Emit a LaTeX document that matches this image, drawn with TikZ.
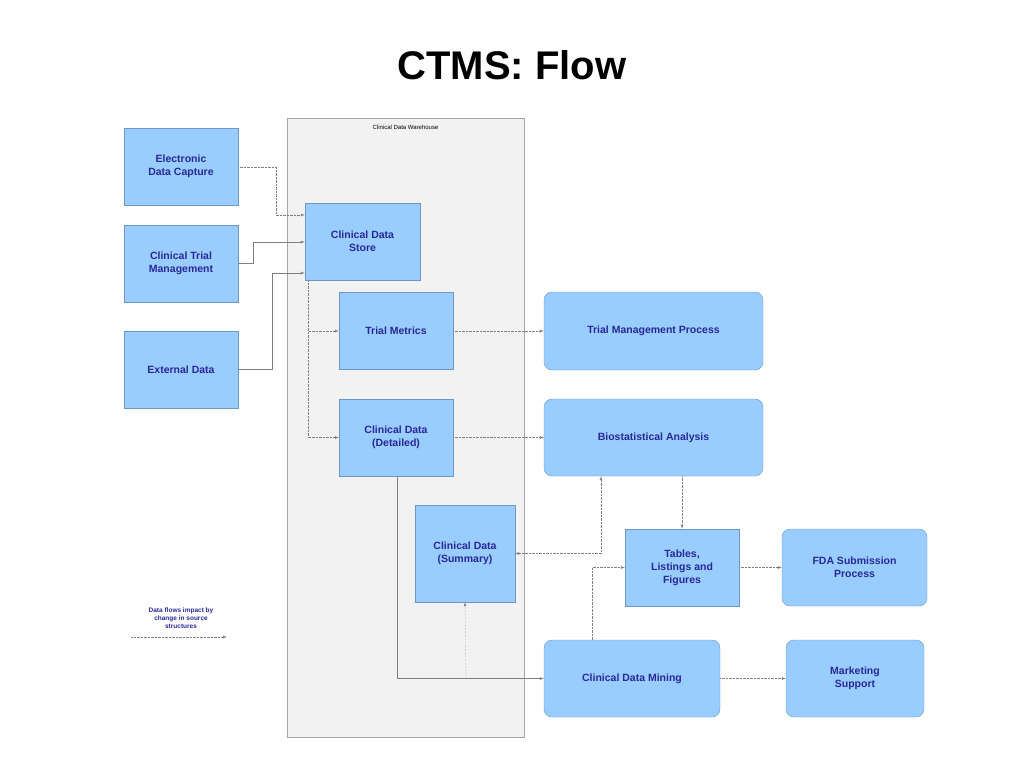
\documentclass[tikz,border=0pt]{standalone}
\usepackage{fontspec}
\setmainfont{Liberation Sans}
\usetikzlibrary{arrows,shapes,positioning}
\definecolor{boxfill}{RGB}{153,204,255}
\definecolor{boxline}{RGB}{110,150,200}
\definecolor{boxtext}{RGB}{40,40,150}

\begin{document}
\begin{tikzpicture}[x=1pt,y=-1pt]
\tikzset{BoxStyle/.style = {shape        = rectangle,
                            draw         = boxline,
                            fill         = boxfill,
                            text         = boxtext,
                            align        = center,
                            font         = \bfseries\fontsize{10.5}{13}\selectfont,
                            inner sep    = 2pt,
                            minimum width  = 114pt,
                            minimum height = 77pt},
         ProcStyle/.style = {BoxStyle, rounded corners=8pt},
         FlowStyle/.style = {draw=gray, densely dotted, -latex},
         FeedStyle/.style = {draw=gray, -latex}}
     \useasboundingbox (0,0) rectangle (1024,768);
     \node[font=\bfseries\fontsize{40}{44}\selectfont] (title) at (512,65) {CTMS: Flow};
     % warehouse
     \draw[gray!70, fill=gray!10] (287,118) rectangle (524,737);
     \node[font=\fontsize{6}{7}\selectfont] (CDW) at (405.5,127) {Clinical Data Warehouse};
     % sources
     \node[BoxStyle] (EDC) at (181,166.5) {Electronic\\Data Capture};
     \node[BoxStyle] (CTM) at (181,263.5) {Clinical Trial\\Management};
     \node[BoxStyle] (EXT) at (181,369.5) {External Data};
     % warehouse content
     \node[BoxStyle,minimum width=115pt] (CDS) at (362.5,241.5) {Clinical Data\\Store};
     \node[BoxStyle] (TM) at (396,331) {Trial Metrics};
     \node[BoxStyle] (CDD) at (396,437.5) {Clinical Data\\(Detailed)};
     \node[BoxStyle,minimum width=100pt,minimum height=97pt] (CDSum) at (465,553.5) {Clinical Data\\(Summary)};
     % processes
     \node[ProcStyle,minimum width=219pt,minimum height=78pt] (TMP) at (653.5,331) {Trial Management Process};
     \node[ProcStyle,minimum width=219pt] (BA) at (653.5,437.5) {Biostatistical Analysis};
     \node[BoxStyle] (TLF) at (682,567.5) {Tables,\\Listings and\\Figures};
     \node[ProcStyle,minimum width=145pt] (FDA) at (854.5,567.5) {FDA Submission\\Process};
     \node[ProcStyle,minimum width=176pt] (CDM) at (632,678.5) {Clinical Data Mining};
     \node[ProcStyle,minimum width=138pt] (MS) at (855,678.5) {Marketing\\Support};
     % legend
     \node[text=boxtext,align=center,font=\bfseries\fontsize{6.5}{8}\selectfont] (LEG) at (181,618) {Data flows impact by\\change in source\\structures};
     \coordinate (L1) at (131,637);
     \coordinate (L2) at (227,637);
     \draw[FlowStyle] (L1) -- (L2);
     % connectors
     \draw[FlowStyle] (EDC.east |- 0,167) -| (276,215) -- (CDS.west |- 0,215);
     \draw[FeedStyle] (CTM.east) -| (253,242) -- (CDS.west |- 0,242);
     \draw[FeedStyle] (EXT.east) -| (272,273) -- (CDS.west |- 0,273);
     \draw[FlowStyle] (308,280) |- (TM.west);
     \draw[FlowStyle] (308,280) |- (CDD.west);
     \draw[FlowStyle] (TM) -- (TMP);
     \draw[FlowStyle] (CDD) -- (BA);
     \draw[FeedStyle] (397,476) |- (CDM.west);
     \draw[FlowStyle] (466,679) -- (CDSum.south);
     \draw[FlowStyle,latex-latex] (BA.south -| 601,0) |- (CDSum.east);
     \draw[FlowStyle] (BA.south -| 682,0) -- (TLF.north);
     \draw[FlowStyle] (CDM.north -| 592,0) |- (TLF.west);
     \draw[FlowStyle] (TLF) -- (FDA);
     \draw[FlowStyle] (CDM) -- (MS);
\end{tikzpicture}
\end{document}
